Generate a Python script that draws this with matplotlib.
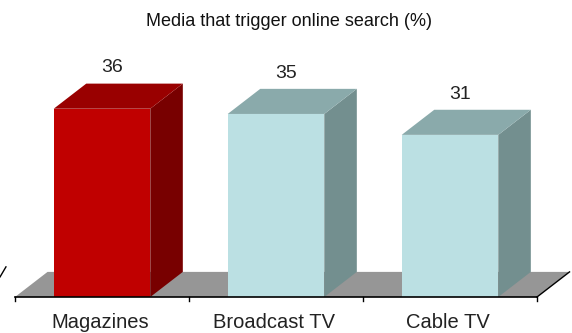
import matplotlib
matplotlib.use("Agg")
import matplotlib.pyplot as plt
from matplotlib.patches import Polygon

# data
categories = ["Magazines", "Broadcast TV", "Cable TV"]
values = [36, 35, 31]
front_colors = ["#c00000", "#bbe0e3", "#bbe0e3"]
top_colors = ["#990000", "#8aaaab", "#8aaaab"]
side_colors = ["#780000", "#738f8f", "#738f8f"]

title = "Media that trigger online search (%)"

# pseudo 3d geometry (category units / value units)
bar_w = 0.555
depth_x = 0.187
depth_y = 4.8

plt.rcParams['font.family'] = ['Liberation Sans', 'DejaVu Sans']

fig = plt.figure(figsize=(5.72, 3.33), dpi=100)
ax = fig.add_axes([0, 0, 1, 1])
x_left = -0.5 - 15 / 174
ax.set_xlim(x_left, x_left + 572 / 174)
y_bot = -36 / 5.23
ax.set_ylim(y_bot, y_bot + 333 / 5.23)
ax.axis("off")

n = len(categories)

# floor
x0, x1 = -0.5, n - 0.5
floor = Polygon([(x0, 0), (x1, 0), (x1 + depth_x, depth_y), (x0 + depth_x, depth_y)],
                closed=True, facecolor="#969696", edgecolor="none", zorder=1)
ax.add_patch(floor)
ax.plot([x1, x1 + depth_x], [0, depth_y], color="black", lw=1, zorder=5)

# bars
for i, (v, fc, tc, sc) in enumerate(zip(values, front_colors, top_colors, side_colors)):
    l = i - bar_w / 2
    r = i + bar_w / 2
    side = Polygon([(r, 0), (r + depth_x, depth_y), (r + depth_x, v + depth_y), (r, v)],
                   closed=True, facecolor=sc, edgecolor="none", zorder=2)
    top = Polygon([(l, v), (r, v), (r + depth_x, v + depth_y), (l + depth_x, v + depth_y)],
                  closed=True, facecolor=tc, edgecolor="none", zorder=2)
    ax.add_patch(side)
    ax.add_patch(top)
    ax.bar(i, v, width=bar_w, color=fc, zorder=3)
    ax.text(i + 0.057, v + depth_y + 3.0, str(v), ha="center", va="center",
            fontsize=14, color="#222222", zorder=6)
    ax.text(i - 0.01, -4.8, categories[i], ha="center", va="center",
            fontsize=14.5, color="#222222", zorder=6)

# axis line with ticks
ax.plot([x0, x1], [0, 0], color="black", lw=1.2, zorder=5)
for t in range(n + 1):
    ax.plot([t - 0.5, t - 0.5], [0, -0.8], color="black", lw=1, zorder=5)

# small y tick stub at the left
ax.plot([x0 - 0.086, x0 - 0.052], [depth_y * 0.8, depth_y * 1.2], color="black", lw=1, zorder=5)

ax.text((x0 + x1 + depth_x) / 2 - 0.02, y_bot + 311 / 5.23, title, ha="center", va="center",
        fontsize=13, color="#111111")

fig.savefig("out.png", dpi=100)
